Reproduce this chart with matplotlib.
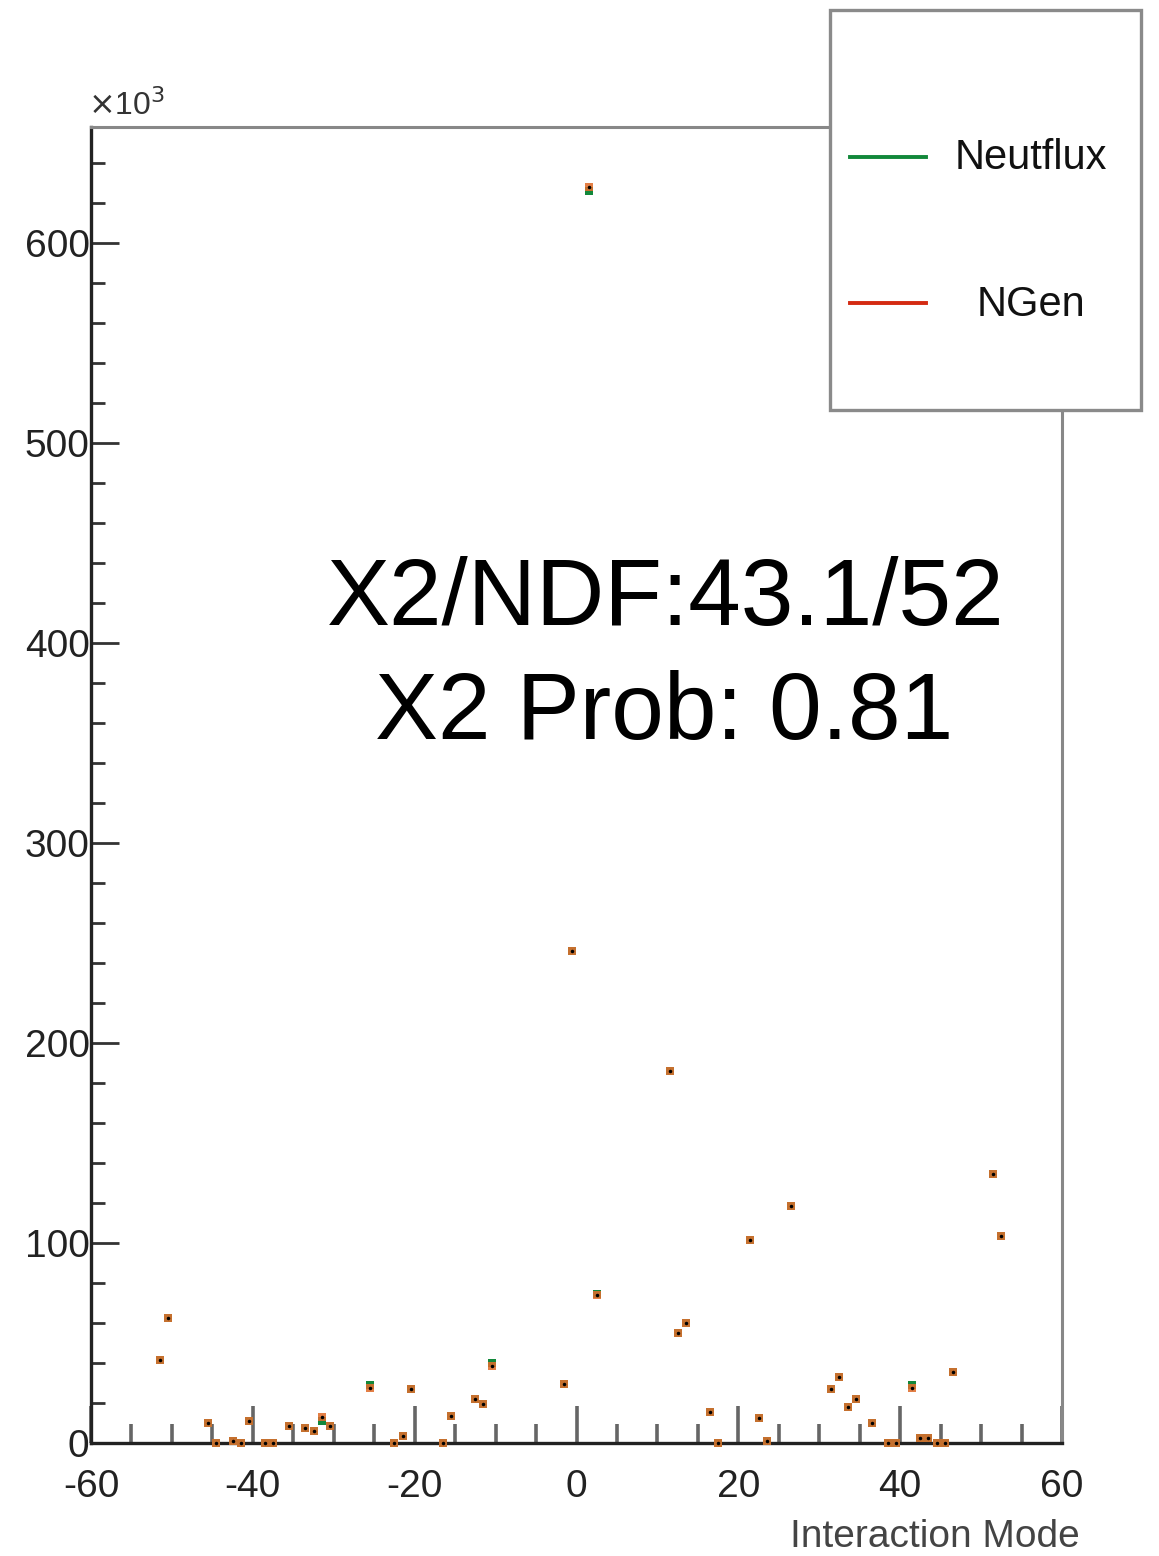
import matplotlib
matplotlib.use("Agg")
import matplotlib.pyplot as plt
from matplotlib.ticker import MultipleLocator, FixedLocator
from matplotlib.patches import Rectangle
from matplotlib.lines import Line2D
import numpy as np

plt.rcParams['font.family'] = ['Liberation Sans', 'DejaVu Sans']
plt.rcParams['axes.unicode_minus'] = False

# Interaction modes (bin = mode, drawn at bin centre mode+0.5)
modes = [-52, -51, -46, -45, -43, -42, -41, -39, -38, -36, -34, -33, -32, -31,
         -26, -23, -22, -21, -17, -16, -13, -12, -11, -2, -1, 1, 2, 11, 12, 13,
         16, 17, 21, 22, 23, 26, 31, 32, 33, 34, 36, 38, 39, 41, 42, 43, 44, 45,
         46, 51, 52]
# values in units of 10^3 events
neutflux = [41.5, 62.5, 10, 0, 1, 0, 11, 0, 0, 8.5, 7.5, 6, 11, 8.5,
            28.8, 0, 3.5, 27, 0, 13.5, 22, 19.5, 40, 29.5, 246, 626, 74.5, 186, 55, 60,
            15.5, 0, 101.5, 12.5, 1, 118.5, 27, 33, 18, 22, 10, 0, 0, 29, 2.5, 2.5, 0, 0,
            35.5, 134.5, 103.5]
ngen = [41.5, 62.5, 10, 0, 1, 0, 11, 0, 0, 8.5, 7.5, 6, 13, 8.5,
        27.5, 0, 3.5, 27, 0, 13.5, 22, 19.5, 38.5, 29.5, 246, 628, 74, 186, 55, 60,
        15.5, 0, 101.5, 12.5, 1, 118.5, 27, 33, 18, 22, 10, 0, 0, 27.5, 2.5, 2.5, 0, 0,
        35.5, 134.5, 103.5]
xticks = [-60, -40, -20, 0, 20, 40, 60]
yticks = [0, 100, 200, 300, 400, 500, 600]

GREEN = '#12883a'
RED = '#d42a12'

fig = plt.figure(figsize=(11.59, 15.56), dpi=100)
ax = fig.add_axes([91/1159, 1-1443/1556, (1062-91)/1159, (1443-127)/1556])

x = np.array(modes) + 0.5
ax.plot(x, neutflux, linestyle='none', marker='s', markersize=6, color=GREEN,
        markeredgewidth=0, clip_on=False, zorder=3)
ax.plot(x, ngen, linestyle='none', marker='s', markersize=6, color=RED,
        markeredgewidth=0, alpha=0.75, clip_on=False, zorder=4)
ax.plot(x, ngen, linestyle='none', marker='s', markersize=6, color='#e8a040',
        markeredgewidth=0, alpha=0.5, clip_on=False, zorder=5)
ax.plot(x, ngen, linestyle='none', marker='.', markersize=3, color='black',
        clip_on=False, zorder=6)

ax.set_xlim(-60, 60)
ax.set_ylim(0, 658)

for s in ['left', 'bottom']:
    ax.spines[s].set_color('#222222')
    ax.spines[s].set_linewidth(2.4)
for s in ['top', 'right']:
    ax.spines[s].set_color('#888888')
    ax.spines[s].set_linewidth(2.2)

ax.xaxis.set_major_locator(FixedLocator(xticks))
ax.set_xticklabels([str(v) for v in xticks])
ax.xaxis.set_minor_locator(MultipleLocator(5))
ax.yaxis.set_major_locator(FixedLocator(yticks))
ax.set_yticklabels([str(v) for v in yticks])
ax.yaxis.set_minor_locator(MultipleLocator(20))

ax.tick_params(axis='x', which='major', direction='in', length=27, width=2.6,
               color='#666666', labelsize=28, pad=19, labelcolor='#222222')
ax.tick_params(axis='x', which='minor', direction='in', length=13.5, width=2.6,
               color='#666666')
ax.tick_params(axis='y', which='major', direction='in', length=20, width=2.0,
               color='#333333', labelsize=28, pad=1, labelcolor='#222222')
ax.tick_params(axis='y', which='minor', direction='in', length=10, width=2.0,
               color='#333333')
for lab in ax.get_yticklabels():
    lab.set_horizontalalignment('right')

fig.text(1080/1159, 1-1537/1556, 'Interaction Mode', ha='right', va='center',
         fontsize=28, color='#444444')
fig.text(88/1159, 1-106/1556, r'$\times$10$^{3}$', ha='left', va='center', fontsize=23,
         color='#333333')

fig.text(666/1159, 1-600/1556, 'X2/NDF:43.1/52', ha='center', va='center',
         fontsize=68, color='black')
fig.text(664/1159, 1-714/1556, 'X2 Prob: 0.81', ha='center', va='center',
         fontsize=68, color='black')

# Legend box (drawn outside the axes as in the reference)
fig.add_artist(Rectangle((830/1159, 1-410/1556), 311/1159, 400/1556,
                         transform=fig.transFigure, facecolor='white',
                         edgecolor='#8a8a8a', linewidth=2.4, zorder=10))
fig.add_artist(Line2D([850/1159, 926/1159], [1-157/1556, 1-157/1556],
                      transform=fig.transFigure, color=GREEN, linewidth=2.8, zorder=11))
fig.add_artist(Line2D([850/1159, 926/1159], [1-303/1556, 1-303/1556],
                      transform=fig.transFigure, color=RED, linewidth=2.8, zorder=11))
fig.text(955/1159, 1-158/1556, 'Neutflux', ha='left', va='center', fontsize=30,
         color='#111111', zorder=12)
fig.text(1031/1159, 1-305/1556, 'NGen', ha='center', va='center', fontsize=30,
         color='#111111', zorder=12)

fig.savefig('out.png', dpi=100)
